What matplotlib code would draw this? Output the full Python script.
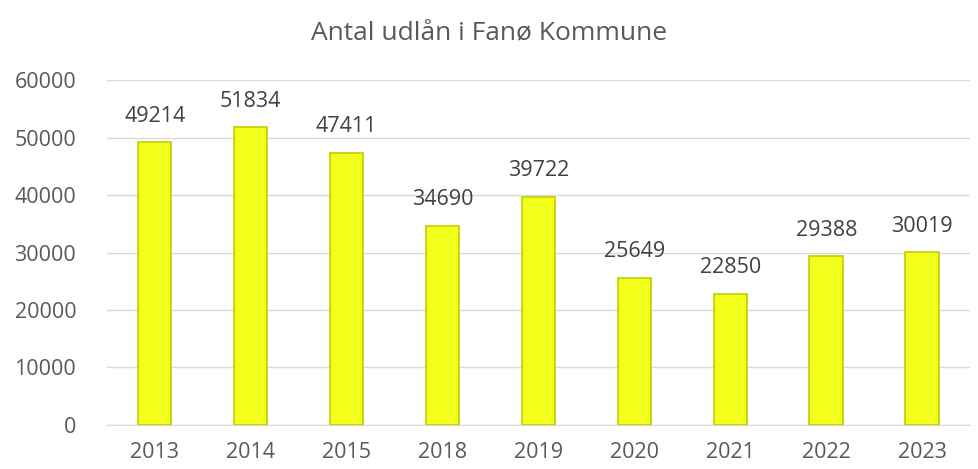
import matplotlib.pyplot as plt

plt.rcParams['font.family'] = ['Open Sans', 'DejaVu Sans']

years = ['2013', '2014', '2015', '2018', '2019', '2020', '2021', '2022', '2023']
loans = [49214, 51834, 47411, 34690, 39722, 25649, 22850, 29388, 30019]

fig = plt.figure(figsize=(9.79, 4.69), dpi=100)
ax = fig.add_axes([0.109, 0.094, 0.882, 0.735])

x = range(len(years))
ax.bar(x, loans, width=0.35, color='#F2FF1A', edgecolor='#C5CC00', linewidth=1.2, zorder=3)
for i, v in zip(x, loans):
    ax.text(i, v + 2700, str(v), ha='center', va='bottom', fontsize=15.5, color='#404040')

ax.set_xlim(-0.5, len(years) - 0.5)
ax.set_ylim(0, 60000)
ax.set_yticks(range(0, 60001, 10000))
ax.set_xticks(list(x))
ax.set_xticklabels(years)
ax.grid(axis='y', color='#D9D9D9', linewidth=1, zorder=0)
for s in ['top', 'right', 'left']:
    ax.spines[s].set_visible(False)
ax.spines['bottom'].set_color('#D9D9D9')
ax.tick_params(length=0, labelsize=15.5, colors='#595959')
ax.tick_params(axis='x', pad=12)
ax.tick_params(axis='y', pad=22)

fig.text(0.5, 0.93, 'Antal udlån i Fanø Kommune', ha='center', va='center', fontsize=19, color='#595959')

fig.savefig('out.png', dpi=100)
